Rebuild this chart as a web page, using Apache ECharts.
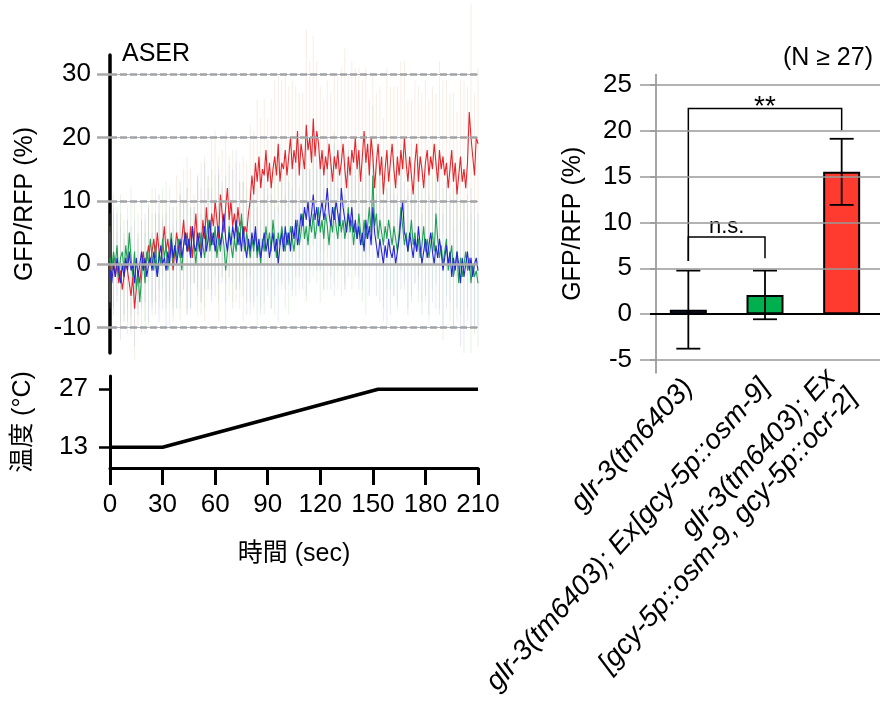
<!DOCTYPE html>
<html><head><meta charset="utf-8">
<script src="https://cdn.jsdelivr.net/npm/echarts@6/dist/echarts.min.js"></script>
<style>html,body{margin:0;padding:0;background:#fff}#c{width:880px;height:704px}</style>
</head><body><div id="c"></div>
<script>
const FONT = '"Liberation Sans", Arial, Helvetica, "Noto Sans CJK JP", sans-serif';

// ---- Left top: ASER GFP/RFP (%) traces, one sample per second (t = 0..210 s)
const sampleStep = 1;
const redValues = [
 0,-1,1,-2,0,-3,-1,-4,-2,0,-1,
 -3,-5,-2,-7,-4,-1,-3,0,2,-1,
 1,3,0,2,4,1,5,2,0,3,
 6,2,4,1,3,-1,2,5,3,1,
 4,7,3,5,2,6,1,4,8,3,
 5,2,7,4,9,5,3,8,6,10,
 7,4,11,8,5,9,12,7,10,6,
 8,5,9,6,7,4,6,5,8,10,
 14,11,16,13,17,12,15,14,18,13,
 16,12,15,17,14,19,13,16,15,18,
 14,17,20,15,18,16,21,14,19,17,
 15,22,18,20,16,23,17,21,19,15,
 18,14,17,15,19,16,13,17,15,18,
 14,16,19,15,12,17,14,18,16,20,
 15,18,13,17,21,16,19,14,20,17,
 12,16,19,14,17,11,15,18,13,16,
 19,15,12,17,14,18,15,20,16,13,
 17,14,11,16,19,13,17,15,12,16,
 18,14,17,15,19,16,13,18,15,17,
 14,16,12,15,18,13,16,11,14,17,
 13,15,12,16,24,20,17,14,20,19
];
const greenValues = [
 1,-1,2,0,3,-2,1,2,-1,3,0,
 5,1,-2,2,-4,-1,-6,-2,1,-3,
 2,0,4,1,-1,3,-2,2,0,4,
 1,3,-1,2,5,0,3,1,4,2,
 -1,3,5,2,4,1,6,3,0,4,
 2,5,3,1,4,7,2,5,3,6,
 1,4,2,5,3,-1,2,6,3,1,
 4,2,6,3,8,4,2,5,3,1,
 4,2,5,1,3,0,4,2,6,3,
 5,2,7,4,1,5,3,6,4,2,
 5,3,6,4,2,5,7,3,5,8,
 4,6,3,7,5,8,4,6,9,5,
 7,4,8,6,3,7,5,9,6,4,
 8,5,7,4,6,9,5,7,3,6,
 4,8,5,3,7,4,6,9,5,14,
 6,8,4,7,5,3,6,4,7,5,
 3,6,4,2,5,9,6,3,5,2,
 4,7,3,5,2,4,1,3,6,2,
 4,1,3,5,2,8,4,1,3,0,
 2,4,-1,1,3,-2,0,2,-3,1,
 -2,0,2,-1,1,-3,0,-2,-1,-3
];
const blueValues = [
 -1,-3,0,-2,1,-1,-3,0,-2,1,-1,
 2,-1,0,-3,1,-2,0,2,-1,1,
 -2,0,1,-1,2,0,-2,1,3,0,
 1,-1,2,0,4,1,3,0,2,4,
 1,3,5,2,4,1,6,3,2,5,
 3,1,4,6,2,4,7,3,5,2,
 4,6,3,5,8,4,2,5,3,6,
 4,7,3,5,2,6,3,1,4,2,
 5,3,6,2,4,1,3,5,2,4,
 1,3,5,2,4,0,3,5,2,6,
 3,5,2,6,4,7,3,5,8,6,
 9,7,10,6,8,11,7,9,6,8,
 10,7,9,12,8,6,9,7,10,8,
 6,12,9,7,5,8,6,9,5,7,
 4,6,3,5,2,7,4,6,3,9,
 5,3,1,4,2,0,3,1,4,2,
 1,3,0,2,4,7,10,5,4,2,
 5,3,1,4,2,6,3,0,2,4,
 1,3,5,2,0,3,1,4,2,-1,
 1,3,0,2,-2,1,-1,2,0,-3,
 1,-2,0,2,-1,1,-2,0,1,-1
];
// error half-widths, one every 2 s (t = 0,2,...,210)
const errStep = 2;
const redErr = [
 6,8,5,9,7,10,6,8,9,7, 8,6,10,7,9,5,8,11,7,9,
 10,8,12,9,7,11,10,13,9,12, 11,13,10,12,9,12,11,10,13,11,
 12,10,13,11,12,10,14,12,11,13, 12,11,14,12,13,10,15,12,13,11,
 13,12,14,11,13,12,15,19,13,14, 11,13,12,15,12,13,11,14,12,13,
 12,13,11,14,12,13,12,13,15,12, 13,12,13,11,14,12,13,12,14,13,
 12,14,12,21,13,12
];
const greenErr = [
 7,9,6,10,8,7,11,8,6,9, 8,10,7,9,6,8,10,7,9,8,
 9,7,10,8,6,9,11,8,7,10, 8,10,7,9,11,8,6,10,9,7,
 9,8,11,7,10,8,9,12,8,10, 9,11,8,10,7,9,12,8,10,9,
 11,8,10,9,12,8,10,7,9,11, 8,10,9,12,8,11,9,7,10,8,
 9,11,8,10,7,9,12,8,10,9, 8,10,9,11,8,12,9,10,8,11,
 9,10,8,11,9,10
];
const blueErr = [
 6,8,7,9,6,8,7,10,6,8, 7,9,6,8,10,7,9,6,8,7,
 9,7,10,8,6,9,7,10,8,9, 7,9,8,10,7,9,11,8,7,9,
 8,10,7,9,11,8,10,7,9,8, 10,8,11,9,7,10,12,9,8,10,
 9,11,8,10,12,9,8,11,10,9, 8,10,9,7,11,9,8,10,9,11,
 10,8,9,11,8,10,9,7,10,8, 9,11,8,10,12,9,10,8,11,9,
 10,12,9,11,10,9
];
const gfpTicks = [-10, 0, 10, 20, 30];

// ---- Left bottom: temperature program
const tempTime = [0, 30, 153, 210];
const tempValues = [13, 13, 27, 27];
const tempTicks = [13, 27];

// ---- Right: bar chart
const barCategories = [
  'glr-3(tm6403)',
  'glr-3(tm6403); Ex[gcy-5p::osm-9]',
  'glr-3(tm6403); Ex\n[gcy-5p::osm-9, gcy-5p::ocr-2]'
];
const barValues = [0.5, 2.1, 15.5];
const barErrors = [4.25, 2.65, 3.6];
const barTicks = [-5, 0, 5, 10, 15, 20, 25];
const bracketFrom = [0, 0];
const bracketTo = [2, 1];
const bracketTop = [22.4, 8.4];
const bracketLeftLow = [5.8, 5.8];
const bracketRightLow = [20.0, 6.1];
const bracketLabels = ['**', 'n.s.'];

// ---- styles
const barColors = ['#1c2b5c', '#00b04f', '#ff3b2f'];
const lineColors = ['#e4262c', '#1fa055', '#2626d4'];
const errColors = ['rgba(228,196,165,0.30)', 'rgba(170,212,160,0.28)', 'rgba(170,180,222,0.28)'];

const pairs = (vals) => vals.map((v, i) => [i * sampleStep, v]);
const errData = (vals, errs) => errs.map((e, i) => {
  const t = i * errStep; const v = vals[Math.round(t / sampleStep)];
  return [t, v - e, v + e];
});
function vRender(color) {
  return function (params, api) {
    const a = api.coord([api.value(0), api.value(1)]);
    const b = api.coord([api.value(0), api.value(2)]);
    return { type: 'line', shape: { x1: a[0], y1: a[1], x2: b[0], y2: b[1] },
      style: { stroke: color, lineWidth: 1 } };
  };
}

const gridMarks = [];
gfpTicks.forEach(v => {
  if (v === 0) {
    gridMarks.push({ yAxis: v, lineStyle: { color: '#a9a9a9', width: 2.5, type: 'solid' } });
  } else {
    gridMarks.push({ yAxis: v, lineStyle: { color: '#9db4d8', width: 1, type: 'solid' } });
    gridMarks.push({ yAxis: v, lineStyle: { color: '#a3a3a3', width: 2.5, type: [7, 3] } });
  }
});
const barGridMarks = barTicks.filter(v => v !== 0).map(v => ({ yAxis: v }));

const chart = echarts.init(document.getElementById('c'), null, { renderer: 'canvas' });
const txt = { fontFamily: FONT, color: '#000' };

chart.setOption({
  animation: false,
  backgroundColor: '#fff',
  textStyle: { fontFamily: FONT },
  grid: [
    { left: 110, top: 55, width: 368, height: 298 },
    { left: 110, top: 376, width: 368, height: 92 },
    { left: 650, top: 74.5, width: 234, height: 298.5 }
  ],
  xAxis: [
    { gridIndex: 0, type: 'value', min: 0, max: 210, show: false },
    { gridIndex: 1, type: 'value', min: 0, max: 210, interval: 30,
      axisLine: { show: true, onZero: false, lineStyle: { color: '#000', width: 3 } },
      axisTick: { show: true, length: 17, lineStyle: { color: '#000', width: 3 } },
      axisLabel: { ...txt, fontSize: 26, margin: 24 },
      splitLine: { show: false },
      name: '時間 (sec)', nameLocation: 'middle', nameGap: 74,
      nameTextStyle: { ...txt, fontSize: 25 } },
    { gridIndex: 2, type: 'category', data: barCategories,
      axisLine: { show: false, onZero: false }, axisTick: { show: false },
      axisLabel: { ...txt, fontSize: 28, fontStyle: 'italic', rotate: 48, margin: 10, interval: 0, lineHeight: 29 } }
  ],
  yAxis: [
    { gridIndex: 0, type: 'value', min: -14, max: 33,
      axisLine: { show: true, onZero: false, lineStyle: { color: '#000', width: 3.5 } },
      axisTick: { show: true, customValues: gfpTicks, length: 13, lineStyle: { color: '#a9a9a9', width: 2.5 } },
      axisLabel: { ...txt, fontSize: 26, customValues: gfpTicks, margin: 19 },
      splitLine: { show: false },
      name: 'GFP/RFP (%)', nameLocation: 'middle', nameGap: 72,
      nameTextStyle: { ...txt, fontSize: 25 } },
    { gridIndex: 1, type: 'value', min: 8, max: 30.2,
      axisLine: { show: true, onZero: false, lineStyle: { color: '#000', width: 3 } },
      axisTick: { show: true, customValues: tempTicks, length: 11, lineStyle: { color: '#000', width: 2.5 } },
      axisLabel: { ...txt, fontSize: 26, customValues: tempTicks, margin: 22 },
      splitLine: { show: false },
      name: '温度 (°C)', nameLocation: 'middle', nameGap: 74,
      nameTextStyle: { ...txt, fontSize: 25 } },
    { gridIndex: 2, type: 'value', min: -6.4, max: 26.1, offset: -6,
      axisLine: { show: true, onZero: false, lineStyle: { color: '#888', width: 1.5 } },
      axisTick: { show: true, customValues: barTicks, length: 16, lineStyle: { color: '#999', width: 1.5 } },
      axisLabel: { ...txt, fontSize: 26, customValues: barTicks, margin: 24 },
      splitLine: { show: false },
      name: 'GFP/RFP (%)', nameLocation: 'middle', nameGap: 70,
      nameTextStyle: { ...txt, fontSize: 25 } }
  ],
  series: [
    { type: 'custom', xAxisIndex: 0, yAxisIndex: 0, z: 1, silent: true,
      renderItem: vRender(errColors[0]), data: errData(redValues, redErr) },
    { type: 'custom', xAxisIndex: 0, yAxisIndex: 0, z: 1, silent: true,
      renderItem: vRender(errColors[1]), data: errData(greenValues, greenErr) },
    { type: 'custom', xAxisIndex: 0, yAxisIndex: 0, z: 1, silent: true,
      renderItem: vRender(errColors[2]), data: errData(blueValues, blueErr) },
    { type: 'line', xAxisIndex: 0, yAxisIndex: 0, z: 2, showSymbol: false, symbol: 'none',
      lineStyle: { color: lineColors[0], width: 1.1 }, data: pairs(redValues) },
    { type: 'line', xAxisIndex: 0, yAxisIndex: 0, z: 2, showSymbol: false, symbol: 'none',
      lineStyle: { color: lineColors[1], width: 1.1 }, data: pairs(greenValues) },
    { type: 'line', xAxisIndex: 0, yAxisIndex: 0, z: 2, showSymbol: false, symbol: 'none',
      lineStyle: { color: lineColors[2], width: 1.1 }, data: pairs(blueValues) },
    { type: 'line', xAxisIndex: 0, yAxisIndex: 0, z: 3, data: [], silent: true,
      markLine: { silent: true, symbol: 'none', label: { show: false }, animation: false, data: gridMarks } },
    { type: 'line', xAxisIndex: 1, yAxisIndex: 1, z: 2, showSymbol: false, symbol: 'none',
      lineStyle: { color: '#000', width: 3.5 }, data: tempTime.map((t, i) => [t, tempValues[i]]) },
    { type: 'line', xAxisIndex: 2, yAxisIndex: 2, z: 1, data: [], silent: true,
      markLine: { silent: true, symbol: 'none', label: { show: false }, animation: false,
        lineStyle: { color: '#999', width: 1.5, type: 'solid' }, data: barGridMarks } },
    { type: 'bar', xAxisIndex: 2, yAxisIndex: 2, z: 2, barWidth: 37,
      data: barValues.map((v, i) => ({ value: v, itemStyle: { color: barColors[i], borderColor: '#000', borderWidth: 2 } })) },
    { type: 'line', xAxisIndex: 2, yAxisIndex: 2, z: 3, data: [], silent: true,
      markLine: { silent: true, symbol: 'none', label: { show: false }, animation: false,
        lineStyle: { color: '#000', width: 2, type: 'solid' }, data: [{ yAxis: 0 }] } },
    { type: 'custom', xAxisIndex: 2, yAxisIndex: 2, z: 4, silent: true,
      data: barValues.map((v, i) => [i, v - barErrors[i], v + barErrors[i]]),
      renderItem: function (params, api) {
        const lo = api.coord([api.value(0), api.value(1)]);
        const hi = api.coord([api.value(0), api.value(2)]);
        const st = { stroke: '#000', lineWidth: 1.8 };
        const c = 12;
        return { type: 'group', children: [
          { type: 'line', shape: { x1: lo[0], y1: lo[1], x2: hi[0], y2: hi[1] }, style: st },
          { type: 'line', shape: { x1: lo[0] - c, y1: lo[1], x2: lo[0] + c, y2: lo[1] }, style: st },
          { type: 'line', shape: { x1: hi[0] - c, y1: hi[1], x2: hi[0] + c, y2: hi[1] }, style: st }
        ] };
      } },
    { type: 'custom', xAxisIndex: 2, yAxisIndex: 2, z: 4, silent: true,
      data: bracketFrom.map((f, i) => [f, bracketTo[i], bracketTop[i], bracketLeftLow[i], bracketRightLow[i]]),
      renderItem: function (params, api) {
        const i = params.dataIndex;
        const pTopL = api.coord([api.value(0), api.value(2)]);
        const pTopR = api.coord([api.value(1), api.value(2)]);
        const pLowL = api.coord([api.value(0), api.value(3)]);
        const pLowR = api.coord([api.value(1), api.value(4)]);
        const st = { stroke: '#000', lineWidth: 1.5, fill: null };
        const isStar = bracketLabels[i] === '**';
        return { type: 'group', children: [
          { type: 'polyline', shape: { points: [[pLowL[0], pLowL[1]], [pTopL[0], pTopL[1]], [pTopR[0], pTopR[1]], [pLowR[0], pLowR[1]]] }, style: st },
          { type: 'text', x: (pTopL[0] + pTopR[0]) / 2, y: pTopL[1] + (isStar ? 13 : 1),
            style: { text: bracketLabels[i], fill: '#000', fontFamily: FONT, fontSize: isStar ? 28 : 22,
              align: 'center', verticalAlign: 'bottom' } }
        ] };
      } }
  ],
  graphic: [
    { type: 'text', left: 122, top: 42, style: { text: 'ASER', fill: '#000', font: '25px ' + FONT } },
    { type: 'text', right: 7, top: 46, style: { text: '(N ≥ 27)', fill: '#000', font: '25px ' + FONT } }
  ]
});
</script></body></html>
